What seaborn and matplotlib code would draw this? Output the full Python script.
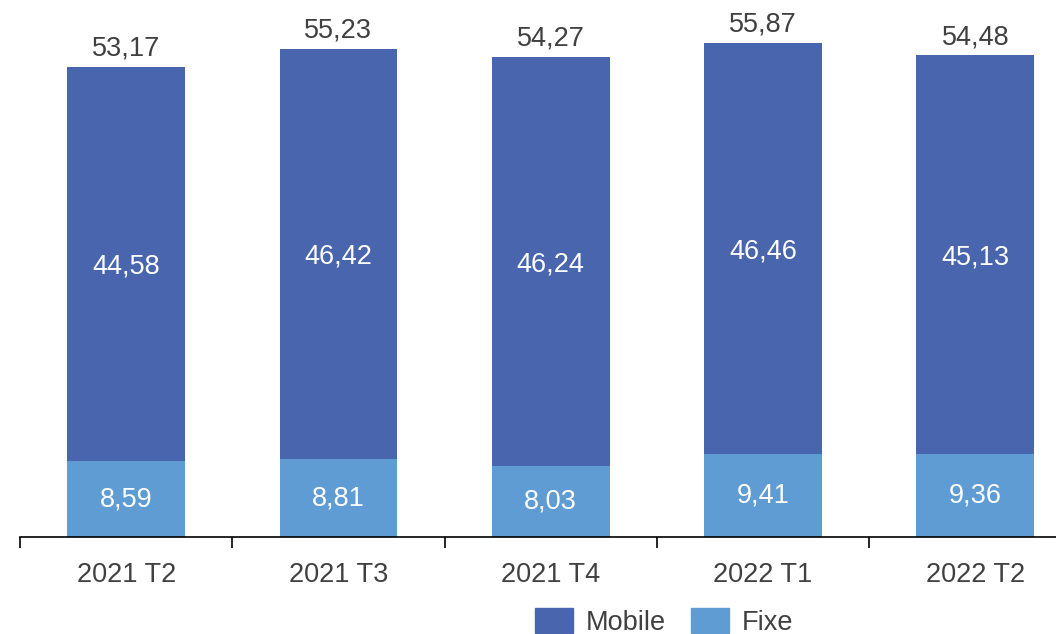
import matplotlib
matplotlib.use('Agg')
import matplotlib.pyplot as plt
import matplotlib.patches as mpatches
import numpy as np
import pandas as pd
import seaborn as sns

periods = ['2021 T2', '2021 T3', '2021 T4', '2022 T1', '2022 T2']
mobile = [44.58, 46.42, 46.24, 46.46, 45.13]
fixe = [8.59, 8.81, 8.03, 9.41, 9.36]
totals = [53.17, 55.23, 54.27, 55.87, 54.48]

MOBILE_COLOR = '#4865AD'
FIXE_COLOR = '#5E9CD3'
TEXT_COLOR = '#404040'
FS = 19.5


def fmt(v):
    return f'{v:.2f}'.replace('.', ',')


sns.set_theme(style='white')
plt.rcParams['font.family'] = ['Liberation Sans', 'DejaVu Sans']

df = pd.DataFrame({'period': periods, 'mobile': mobile, 'fixe': fixe,
                   'total': totals})
df['stack'] = df['mobile'] + df['fixe']

fig = plt.figure(figsize=(10.56, 6.34), dpi=100)
ax = fig.add_axes([20 / 1056, 97 / 634, 1036 / 1056, 537 / 634])

sns.barplot(data=df, x='period', y='stack', color=MOBILE_COLOR, width=0.555,
            saturation=1, linewidth=0, ax=ax)
sns.barplot(data=df, x='period', y='fixe', color=FIXE_COLOR, width=0.555,
            saturation=1, linewidth=0, ax=ax)

for i, row in df.iterrows():
    ax.text(i, row['fixe'] / 2, fmt(row['fixe']), ha='center', va='center',
            color='white', fontsize=FS)
    ax.text(i, row['fixe'] + row['mobile'] / 2 - 0.3, fmt(row['mobile']),
            ha='center', va='center', color='white', fontsize=FS)
    ax.text(i, row['stack'] + 0.6, fmt(row['total']), ha='center',
            va='bottom', color=TEXT_COLOR, fontsize=FS)

ax.set_xlabel('')
ax.set_ylabel('')
ax.set_yticks([])
for side in ['top', 'right', 'left']:
    ax.spines[side].set_visible(False)
ax.spines['bottom'].set_color('black')
ax.spines['bottom'].set_linewidth(1.2)

ax.set_xticks(range(len(periods)))
ax.set_xticklabels(periods, fontsize=FS, color=TEXT_COLOR)
ax.tick_params(axis='x', which='major', length=0, pad=18)
ax.set_xticks(np.arange(-0.5, len(periods), 1.0), minor=True)
ax.tick_params(axis='x', which='minor', bottom=True, direction='out',
               length=8, width=1.2, color='black')
ax.set_xlim(-0.5, 4.38)
ax.set_ylim(0, 60.75)

handles = [mpatches.Patch(color=MOBILE_COLOR, label='Mobile'),
           mpatches.Patch(color=FIXE_COLOR, label='Fixe')]
fig.legend(handles=handles, loc='center', bbox_to_anchor=(0.629, 12 / 634),
           ncol=2, frameon=False, fontsize=FS, handlelength=1.4,
           handleheight=1.05, columnspacing=0.9, handletextpad=0.5,
           labelcolor=TEXT_COLOR)

fig.savefig('out.png', dpi=100)
